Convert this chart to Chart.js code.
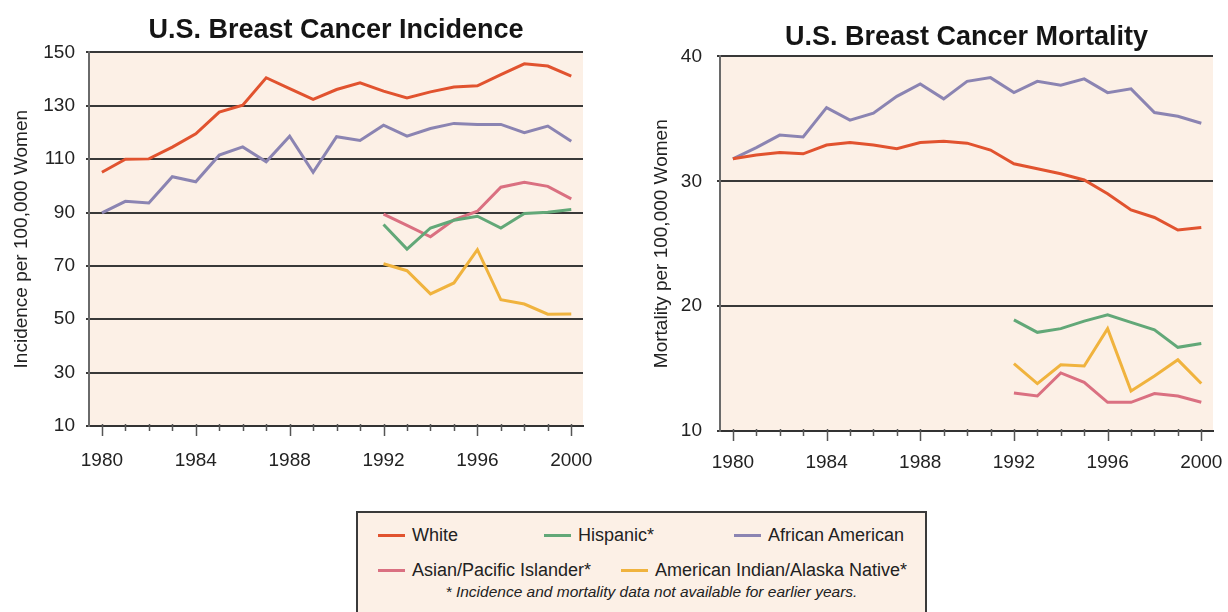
<!DOCTYPE html>
<html>
<head>
<meta charset="utf-8">
<script src="https://cdn.jsdelivr.net/npm/chart.js@4.4.1/dist/chart.umd.min.js"></script>
<style>
	body { margin:0; background:#fff; width:1228px; height:612px; overflow:hidden; position:relative; font-family:"Liberation Sans", Arial, sans-serif; }
	canvas { position:absolute; top:0; }
	#inc { left:0; }
	#mor { left:615px; }
	#legend { position:absolute; left:356px; top:511px; width:567px; height:120px; border:2px solid #3a3a3a; background:#fcf0e6; color:#222; }
	#legend .it { position:absolute; font-size:18px; line-height:20px; white-space:nowrap; }
	#legend .it i { display:inline-block; width:27px; height:3px; vertical-align:middle; margin-right:7px; position:relative; top:-1px; }
	#legend .note { position:absolute; left:0; width:100%; top:70px; text-align:center; font-size:15.5px; font-style:italic; padding-left:20px; box-sizing:border-box; }
</style>
</head>
<body>
<canvas id="inc" width="600" height="490"></canvas>
<canvas id="mor" width="613" height="490"></canvas>
<div id="legend"></div>
<script>
var years = [1980,1981,1982,1983,1984,1985,1986,1987,1988,1989,1990,1991,1992,1993,1994,1995,1996,1997,1998,1999,2000];
var lateYears = [1992,1993,1994,1995,1996,1997,1998,1999,2000];
var xTickYears = [1980,1984,1988,1992,1996,2000];
var incTicks = [10,30,50,70,90,110,130,150];
var morTicks = [10,20,30,40];

// incidence per 100,000
var incWhite = [105.1,110,110.1,114.5,119.5,127.6,130.2,140.5,136.4,132.4,136.1,138.6,135.5,132.9,135.2,137,137.5,141.7,145.7,144.9,141.1];
var incAfrAm = [89.9,94.2,93.6,103.4,101.5,111.5,114.6,109,118.6,105.1,118.4,117,122.7,118.6,121.5,123.4,123,123,119.9,122.4,116.7];
var incHisp  = [85.5,76.3,84.2,87.1,88.6,84.2,89.6,90.1,91.1];
var incAsian = [89.4,85.2,80.9,87.3,90.5,99.5,101.3,99.8,95.1];
var incAIAN  = [70.8,68.2,59.5,63.6,76.1,57.3,55.7,51.9,52];

// mortality per 100,000
var morWhite = [31.8,32.1,32.3,32.2,32.9,33.1,32.9,32.6,33.1,33.2,33.05,32.5,31.4,31.0,30.6,30.1,29.0,27.7,27.1,26.1,26.3];
var morAfrAm = [31.8,32.7,33.7,33.55,35.9,34.9,35.45,36.8,37.8,36.6,38.0,38.3,37.1,38.0,37.7,38.2,37.1,37.4,35.5,35.2,34.65];
var morHisp  = [18.9,17.9,18.2,18.8,19.3,18.7,18.1,16.7,17.0];
var morAIAN  = [15.4,13.8,15.3,15.2,18.2,13.2,14.4,15.7,13.8];
var morAsian = [13.05,12.8,14.65,13.9,12.3,12.3,13.0,12.8,12.3];

var names = ['White','Hispanic*','African American','Asian/Pacific Islander*','American Indian/Alaska Native*'];
var colors = ['#e1532f','#62a878','#8b84b2','#da7081','#f0b33e'];

var FONT = '"Liberation Sans", Arial, sans-serif';
var BG = '#fcf0e6';

function pts(xs, ys) { return ys.map((v,i)=>({x:xs[i], y:v})); }
function ds(label, color, data) {
	return { label:label, data:data, borderColor:color, backgroundColor:color, borderWidth:3, pointRadius:0, tension:0, fill:false };
}

var frame = {
	id:'frame',
	beforeDraw(chart) {
		var a = chart.chartArea, c = chart.ctx;
		c.save();
		c.fillStyle = BG;
		c.fillRect(a.left, a.top, a.right-a.left, a.bottom-a.top);
		c.restore();
	},
	afterDraw(chart) {
		var x = chart.scales.x, c = chart.ctx;
		c.save();
		c.strokeStyle = '#555';
		c.lineWidth = 1.5;
		years.forEach(y=>{
			var px = Math.round(x.getPixelForValue(y))+0.5;
			var len = (y%4===0) ? 10 : 5;
			c.beginPath();
			c.moveTo(px, x.top-2);
			c.lineTo(px, x.top+len);
			c.stroke();
		});
		c.restore();
	}
};

function makeChart(id, cfg) {
	var ticks = cfg.ticks;
	return new Chart(document.getElementById(id), {
		type:'line',
		data:{ datasets:cfg.datasets },
		plugins:[frame],
		options:{
			responsive:false,
			animation:false,
			devicePixelRatio:1,
			layout:{ padding:{ left:0, right:cfg.padRight, top:0, bottom:0 } },
			plugins:{
				legend:{ display:false },
				tooltip:{ enabled:false },
				title:{
					display:true, text:cfg.title, fullSize:false, color:'#151515',
					font:{ family:FONT, size:27, weight:'bold' },
					padding:{ top:cfg.titleTop, bottom:cfg.titleBottom }
				}
			},
			scales:{
				x:{
					type:'linear', min:1979.45, max:2000.5,
					afterBuildTicks:(s)=>{ s.ticks = xTickYears.map(v=>({value:v})); },
					afterFit:(s)=>{ s.height = cfg.xHeight; s.paddingLeft = 0; s.paddingRight = 0; },
					grid:{ display:false, drawTicks:false },
					border:{ display:true, color:'#333', width:2 },
					ticks:{ color:'#222', padding:cfg.xPad, maxRotation:0, font:{ family:FONT, size:19 }, callback:(v)=>String(v) }
				},
				y:{
					min:ticks[0], max:ticks[ticks.length-1],
					afterBuildTicks:(s)=>{ s.ticks = ticks.map(v=>({value:v})); },
					afterFit:(s)=>{ s.width = cfg.yWidth; s.paddingTop = 0; s.paddingBottom = 0; },
					grid:{ color:'#383838', lineWidth:2, drawTicks:true, tickLength:3 },
					border:{ display:true, color:'#6a6a6a', width:2 },
					ticks:{ color:'#222', padding:cfg.yPad, font:{ family:FONT, size:19 } },
					title:{ display:true, text:cfg.yTitle, color:'#222', font:{ family:FONT, size:19 }, padding:{ top:cfg.yTitlePad, bottom:0 } }
				}
			}
		}
	});
}

makeChart('inc', {
	title:'U.S. Breast Cancer Incidence',
	yTitle:'Incidence per 100,000 Women',
	ticks:incTicks,
	padRight:17, titleTop:14, titleBottom:6,
	xHeight:64, xPad:23, yWidth:89, yPad:11, yTitlePad:10,
	datasets:[
		ds(names[0], colors[0], pts(years, incWhite)),
		ds(names[1], colors[1], pts(lateYears, incHisp)),
		ds(names[2], colors[2], pts(years, incAfrAm)),
		ds(names[3], colors[3], pts(lateYears, incAsian)),
		ds(names[4], colors[4], pts(lateYears, incAIAN))
	]
});

makeChart('mor', {
	title:'U.S. Breast Cancer Mortality',
	yTitle:'Mortality per 100,000 Women',
	ticks:morTicks,
	padRight:15, titleTop:21, titleBottom:3,
	xHeight:59, xPad:20, yWidth:105, yPad:15, yTitlePad:35,
	datasets:[
		ds(names[0], colors[0], pts(years, morWhite)),
		ds(names[1], colors[1], pts(lateYears, morHisp)),
		ds(names[2], colors[2], pts(years, morAfrAm)),
		ds(names[3], colors[3], pts(lateYears, morAsian)),
		ds(names[4], colors[4], pts(lateYears, morAIAN))
	]
});

// legend box
var legendPos = [[20,12],[186,12],[376,12],[20,47],[263,47]];
var lg = document.getElementById('legend');
names.forEach((n,i)=>{
	var d = document.createElement('div');
	d.className = 'it';
	d.style.left = legendPos[i][0]+'px';
	d.style.top = legendPos[i][1]+'px';
	d.innerHTML = '<i style="background:'+colors[i]+'"></i>'+n;
	lg.appendChild(d);
});
var note = document.createElement('div');
note.className = 'note';
note.textContent = '* Incidence and mortality data not available for earlier years.';
lg.appendChild(note);
</script>
</body>
</html>
